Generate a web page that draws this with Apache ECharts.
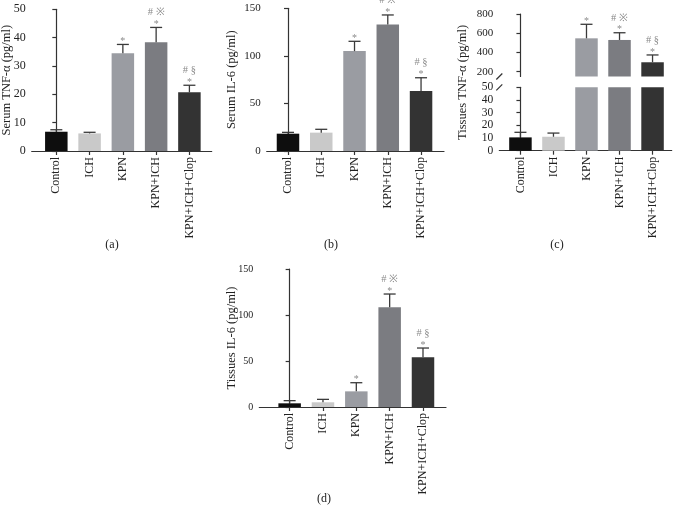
<!DOCTYPE html>
<html>
<head>
<meta charset="utf-8">
<script src="https://cdn.jsdelivr.net/npm/echarts@6/dist/echarts.min.js"></script>
<style>html,body{margin:0;padding:0;background:#fff}#c{width:673px;height:511px}</style>
</head>
<body>
<div id="c"></div>
<script>
// ---- data ----
const categories = ['Control', 'ICH', 'KPN', 'KPN+ICH', 'KPN+ICH+Clop'];
const serumTnfMean = [6.8, 6.2, 34.5, 38.4, 20.7];
const serumTnfSd = [0.7, 0.4, 3.1, 5.2, 2.5];
const serumIl6Mean = [18.2, 19.3, 105, 133, 63];
const serumIl6Sd = [1.4, 3.5, 10.3, 10, 14];
const tissueTnfMean = [10.5, 11, 547, 530, 298];
const tissueTnfSd = [4, 2.9, 146, 75, 76];
const tissueIl6Mean = [4.0, 5.1, 17, 108.3, 54];
const tissueIl6Sd = [2.9, 3.2, 9.4, 14.5, 10.1];
const starMarks = ['', '', '*', '*', '*'];
const upperMarks = ['', '', '', '# \u203B', '# \u00A7'];
const serumTnfTicks = [0, 10, 20, 30, 40, 50];
const tissueTnfUpperTicks = [200, 400, 600, 800];
const xTickValues = [0, 1, 2, 3, 4];

const barColors = ['#0e0e0e', '#c9c9c9', '#9a9ca2', '#7b7c81', '#333333'];
const FONT = 'Liberation Serif';
const AX = '#333';

const chart = echarts.init(document.getElementById('c'), null, {renderer: 'canvas'});

function xAxis(gridIndex, min, max, show) {
  return {
    type: 'value', gridIndex, min, max,
    axisLine: {show: show, onZero: false, lineStyle: {color: AX, width: 1.2}},
    axisTick: {show: show, length: 4, customValues: xTickValues, lineStyle: {color: AX, width: 1.2}},
    axisLabel: {show: show, customValues: xTickValues, rotate: 90, margin: 6,
      formatter: v => categories[Math.round(v)], fontFamily: FONT, fontSize: 12, color: '#222'},
    splitLine: {show: false}
  };
}
function yAxis(gridIndex, min, max, interval, name, nameGap, labelSize, extra) {
  const a = {
    type: 'value', gridIndex, min, max, interval,
    axisLine: {show: true, lineStyle: {color: AX, width: 1.2}},
    axisTick: {show: true, length: 4, lineStyle: {color: AX, width: 1.2}},
    axisLabel: {margin: 6, fontFamily: FONT, fontSize: labelSize, color: '#222'},
    splitLine: {show: false},
    name: name, nameLocation: 'middle', nameGap: nameGap, nameMoveOverlap: false,
    nameTextStyle: {fontFamily: FONT, fontSize: 12.5, color: '#222'}
  };
  return Object.assign(a, extra || {});
}
function barSeries(xi, yi, means) {
  return {
    type: 'bar', xAxisIndex: xi, yAxisIndex: yi, barWidth: 22.5, clip: true,
    data: means.map((m, i) => ({value: [i, m], itemStyle: {color: barColors[i]}})),
    silent: true, animation: false
  };
}
function errSeries(xi, yi, means, sds) {
  return {
    type: 'custom', xAxisIndex: xi, yAxisIndex: yi, z: 5, animation: false, silent: true,
    data: means.map((m, i) => [i, m, sds[i]]),
    renderItem: (params, api) => {
      const i = api.value(0), m = api.value(1), s = api.value(2);
      const cs = params.coordSys;
      const p0 = api.coord([i, m]);
      const p1 = api.coord([i, m + s]);
      if (p0[1] < cs.y - 0.5 || p0[1] > cs.y + cs.height + 0.5) return null;
      const st = {stroke: '#3a3a3a', lineWidth: 1.3};
      const ch = [
        {type: 'line', shape: {x1: p0[0], y1: p0[1], x2: p1[0], y2: p1[1]}, style: st},
        {type: 'line', shape: {x1: p1[0] - 6, y1: p1[1], x2: p1[0] + 6, y2: p1[1]}, style: st}
      ];
      const idx = params.dataIndex;
      if (starMarks[idx]) {
        ch.push({type: 'text', x: p1[0], y: p1[1] - 3,
          style: {text: starMarks[idx], fill: '#8a8a8a', font: '10px ' + FONT, align: 'center', verticalAlign: 'middle'}});
      }
      if (upperMarks[idx]) {
        ch.push({type: 'text', x: p1[0], y: p1[1] - 15,
          style: {text: upperMarks[idx], fill: '#8a8a8a', font: '10.5px ' + FONT, align: 'center', verticalAlign: 'middle'}});
      }
      return {type: 'group', children: ch};
    }
  };
}
function breakSeries(xi, yi, atBottom) {
  return {
    type: 'custom', xAxisIndex: xi, yAxisIndex: yi, z: 6, animation: false, silent: true,
    data: [[0, 0]],
    renderItem: (params, api) => {
      const cs = params.coordSys;
      const y = atBottom ? cs.y + cs.height : cs.y;
      const x = cs.x;
      return {type: 'line', shape: {x1: x - 3, y1: y + 3, x2: x + 3, y2: y - 3},
        style: {stroke: AX, lineWidth: 1.2}};
    }
  };
}

const option = {
  animation: false,
  grid: [
    {left: 31.7, top: 9.3, width: 180, height: 141.7, outerBoundsMode: 'none'},
    {left: 266.7, top: 8.3, width: 177.3, height: 142.7, outerBoundsMode: 'none'},
    {left: 499.3, top: 14, width: 172.4, height: 62.5, outerBoundsMode: 'none'},
    {left: 499.3, top: 87.3, width: 172.4, height: 63.4, outerBoundsMode: 'none'},
    {left: 499.3, top: 14, width: 172.4, height: 136.7, outerBoundsMode: 'none'},
    {left: 259.3, top: 269, width: 186.7, height: 138, outerBoundsMode: 'none'}
  ],
  xAxis: [
    xAxis(0, -0.74, 4.67, true),
    xAxis(1, -0.64, 4.69, true),
    xAxis(2, -0.64, 4.58, false),
    xAxis(3, -0.64, 4.58, true),
    xAxis(4, -0.64, 4.58, false),
    xAxis(5, -0.91, 4.69, true)
  ],
  yAxis: [
    yAxis(0, serumTnfTicks[0], serumTnfTicks[serumTnfTicks.length - 1], 10, 'Serum TNF-\u03B1 (pg/ml)', 18, 12),
    yAxis(1, 0, 150, 50, 'Serum IL-6 (pg/ml)', 28, 11),
    yAxis(2, 150, 800, null, '', 0, 11, {
      axisTick: {show: true, length: 4, customValues: tissueTnfUpperTicks, lineStyle: {color: AX, width: 1.2}},
      axisLabel: {margin: 6, fontFamily: FONT, fontSize: 11, color: '#222', customValues: tissueTnfUpperTicks}
    }),
    yAxis(3, 0, 50, 10, '', 0, 11.5),
    yAxis(4, 0, 1, 1, 'Tissues TNF-\u03B1 (pg/ml)', 30, 11, {
      axisLine: {show: false}, axisTick: {show: false}, axisLabel: {show: false}
    }),
    yAxis(5, 0, 150, 50, 'Tissues IL-6 (pg/ml)', 21, 10)
  ],
  series: [
    barSeries(0, 0, serumTnfMean), errSeries(0, 0, serumTnfMean, serumTnfSd),
    barSeries(1, 1, serumIl6Mean), errSeries(1, 1, serumIl6Mean, serumIl6Sd),
    barSeries(2, 2, tissueTnfMean), errSeries(2, 2, tissueTnfMean, tissueTnfSd), breakSeries(2, 2, true),
    barSeries(3, 3, tissueTnfMean), errSeries(3, 3, tissueTnfMean, tissueTnfSd), breakSeries(3, 3, false),
    barSeries(5, 5, tissueIl6Mean), errSeries(5, 5, tissueIl6Mean, tissueIl6Sd)
  ],
  graphic: [
    {type: 'text', x: 112, y: 245, style: {text: '(a)', font: '12px ' + FONT, fill: '#222', align: 'center', verticalAlign: 'middle'}},
    {type: 'text', x: 331, y: 245, style: {text: '(b)', font: '12px ' + FONT, fill: '#222', align: 'center', verticalAlign: 'middle'}},
    {type: 'text', x: 557, y: 245, style: {text: '(c)', font: '12px ' + FONT, fill: '#222', align: 'center', verticalAlign: 'middle'}},
    {type: 'text', x: 324, y: 499, style: {text: '(d)', font: '12px ' + FONT, fill: '#222', align: 'center', verticalAlign: 'middle'}}
  ]
};
chart.setOption(option);
</script>
</body>
</html>
